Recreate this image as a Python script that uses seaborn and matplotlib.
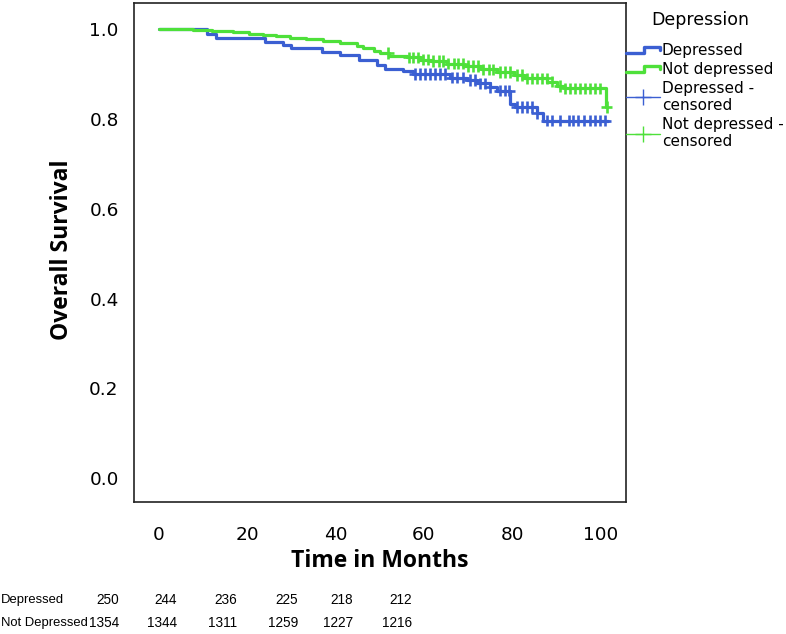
import numpy as np
import pandas as pd
import matplotlib
matplotlib.use("Agg")
import matplotlib.pyplot as plt
import seaborn as sns
from matplotlib.lines import Line2D
from matplotlib.legend_handler import HandlerBase

# ---------------- data ----------------
groups = ["Depressed", "Not depressed"]

dep_times = [0, 10.9, 13.0, 24.0, 28.2, 30.0, 36.9, 41.0, 45.2, 49.3, 51.2, 55.3, 57.6,
             65.9, 69.7, 71.9, 75.0, 76.5, 79.5, 80.6, 85.5, 87.0, 101.7]
dep_surv = [1.0, 0.990, 0.981, 0.972, 0.964, 0.957, 0.949, 0.942, 0.931, 0.920, 0.912, 0.907, 0.900,
            0.892, 0.886, 0.879, 0.870, 0.863, 0.834, 0.826, 0.812, 0.796, 0.796]

nd_times = [0, 7.8, 12.0, 16.8, 20.5, 23.6, 26.6, 29.6, 33.4, 37.2, 41.0, 44.8, 46.3, 48.6, 50.1,
            52.0, 56.2, 59.2, 61.5, 65.3, 69.0, 72.8, 76.6, 80.4, 82.6, 87.9, 90.1, 91.6, 101.1, 101.3]
nd_surv = [1.0, 0.998, 0.996, 0.993, 0.990, 0.987, 0.984, 0.980, 0.977, 0.973, 0.968, 0.962, 0.957,
           0.952, 0.946, 0.940, 0.937, 0.932, 0.929, 0.923, 0.918, 0.910, 0.904, 0.898, 0.890, 0.883,
           0.873, 0.868, 0.826, 0.826]

dep_censor = [58.0, 59.1, 60.2, 61.4, 62.5, 63.6, 64.8, 66.3, 67.4, 68.9, 70.4, 71.6, 72.7, 73.8,
              75.0, 77.2, 78.3, 79.3, 81.0, 82.1, 83.3, 84.4, 85.5, 87.8, 88.9, 90.8, 92.7, 93.8,
              94.9, 96.1, 97.6, 98.7, 99.8, 101.0]
nd_censor = [51.9, 56.5, 57.6, 58.7, 59.8, 61.0, 62.1, 63.3, 64.4, 65.5, 66.7, 67.8, 68.9, 70.0,
             71.2, 72.3, 73.4, 74.6, 75.7, 77.2, 78.3, 79.5, 81.0, 82.1, 83.3, 84.4, 85.5, 86.6,
             87.8, 88.9, 90.8, 91.9, 93.1, 94.2, 95.3, 96.5, 97.6, 98.7, 99.8, 101.3]

risk_rows = ["Depressed", "Not Depressed"]
risk_dep = [250, 244, 236, 225, 218, 212]
risk_nd = [1354, 1344, 1311, 1259, 1227, 1216]

x_ticks = [0, 20, 40, 60, 80, 100]
y_ticks = [0.0, 0.2, 0.4, 0.6, 0.8, 1.0]

blue = "#3b5fd2"
green = "#4ee03a"
palette = {"Depressed": blue, "Not depressed": green}

# ---------------- build frames ----------------
curve_df = pd.concat([
    pd.DataFrame({"t": dep_times, "s": dep_surv, "group": "Depressed"}),
    pd.DataFrame({"t": nd_times, "s": nd_surv, "group": "Not depressed"}),
], ignore_index=True)


def step_value(times, surv, t):
    idx = np.searchsorted(np.asarray(times), t, side="right") - 1
    return np.asarray(surv)[idx]


cens_df = pd.concat([
    pd.DataFrame({"t": dep_censor, "s": step_value(dep_times, dep_surv, dep_censor), "group": "Depressed"}),
    pd.DataFrame({"t": nd_censor, "s": step_value(nd_times, nd_surv, nd_censor), "group": "Not depressed"}),
], ignore_index=True)

# ---------------- plot ----------------
sns.set_style("white")
plt.rcParams["font.family"] = ["DejaVu Sans"]
plt.rcParams["text.color"] = "black"
plt.rcParams["axes.labelcolor"] = "black"

fig = plt.figure(figsize=(7.86, 6.34), dpi=100)
ax = fig.add_axes([134 / 786, 1 - 502 / 634, (626 - 134) / 786, (502 - 3) / 634])

sns.lineplot(data=curve_df, x="t", y="s", hue="group", palette=palette, drawstyle="steps-post",
             estimator=None, sort=False, legend=False, linewidth=2.3, ax=ax)
sns.scatterplot(data=cens_df, x="t", y="s", hue="group", palette=palette, marker="+",
                s=70, linewidth=1.9, legend=False, ax=ax)

ax.set_xlim(-5.6, 105.7)
ax.set_ylim(-0.053, 1.058)
ax.set_xticks(x_ticks)
ax.set_xticklabels([str(v) for v in x_ticks])
ax.set_yticks(y_ticks)
ax.set_yticklabels([f"{v:.1f}" for v in y_ticks])
ax.tick_params(axis="both", direction="out", length=5, width=1.2, labelsize=13.3,
               colors="black", pad=6)
ax.tick_params(axis="x", pad=12)
for sp in ax.spines.values():
    sp.set_visible(True)
    sp.set_color("#222222")
    sp.set_linewidth(1.2)

label_font = ["Open Sans", "DejaVu Sans"]
ax.set_xlabel("Time in Months", fontsize=16.5, fontweight="bold", family=label_font, color="black")
ax.set_ylabel("Overall Survival", fontsize=16.5, fontweight="bold", family=label_font, color="black")
ax.xaxis.set_label_coords(0.5, (502 - 549) / 499)
ax.yaxis.set_label_coords((74 - 134) / 492, (502 - 250) / 499)


# ---------------- legend ----------------
class StepHandler(HandlerBase):
    def create_artists(self, legend, orig_handle, xdescent, ydescent, width, height, fontsize, trans):
        c = orig_handle.get_color()
        xs = np.array([0.0, 0.55, 0.55, 1.0, 1.0]) * width - xdescent
        ys = np.array([0.15, 0.15, 0.75, 0.75, 0.45]) * height - ydescent
        return [Line2D(xs, ys, color=c, lw=2.4, transform=trans)]


class CensorHandler(HandlerBase):
    def create_artists(self, legend, orig_handle, xdescent, ydescent, width, height, fontsize, trans):
        c = orig_handle.get_color()
        yc = 0.5 * height - ydescent
        ln = Line2D([-xdescent, width - xdescent], [yc, yc], color=c, lw=1.0, transform=trans)
        mk = Line2D([0.5 * width - xdescent], [yc], color=c, marker="+", markersize=12,
                    markeredgewidth=1.0, linestyle="none", transform=trans)
        return [ln, mk]


class StepH(Line2D):
    pass


class CensH(Line2D):
    pass


handles = [StepH([], [], color=blue), StepH([], [], color=green),
           CensH([], [], color=blue), CensH([], [], color=green)]
labels = ["Depressed", "Not depressed", "Depressed -\ncensored", "Not depressed -\ncensored"]
leg = fig.legend(handles, labels, loc="upper left", bbox_to_anchor=(626 / 786, 1 - 43 / 634),
                 frameon=False, fontsize=11, handlelength=2.2, handletextpad=0.15,
                 labelspacing=0.25, borderpad=0, borderaxespad=0,
                 handler_map={StepH: StepHandler(), CensH: CensorHandler()})
for t in leg.get_texts():
    t.set_color("black")
fig.text(700 / 786, 1 - 20 / 634, "Depression", ha="center", va="center", fontsize=12.5,
         color="black")

# ---------------- number at risk table ----------------
row_y = [1 - 600 / 634, 1 - 623 / 634]
col_right = [119, 177, 237, 298, 353, 412]
risk_font = ["Liberation Sans", "DejaVu Sans"]
for yy, name, vals in zip(row_y, risk_rows, [risk_dep, risk_nd]):
    fig.text(1 / 786, yy, name, ha="left", va="center", fontsize=9.4, family=risk_font,
             color="black")
    for xr, v in zip(col_right, vals):
        fig.text(xr / 786, yy, str(v), ha="right", va="center", fontsize=9.8,
                 family=risk_font, color="black")

fig.savefig("out.png", dpi=100)
